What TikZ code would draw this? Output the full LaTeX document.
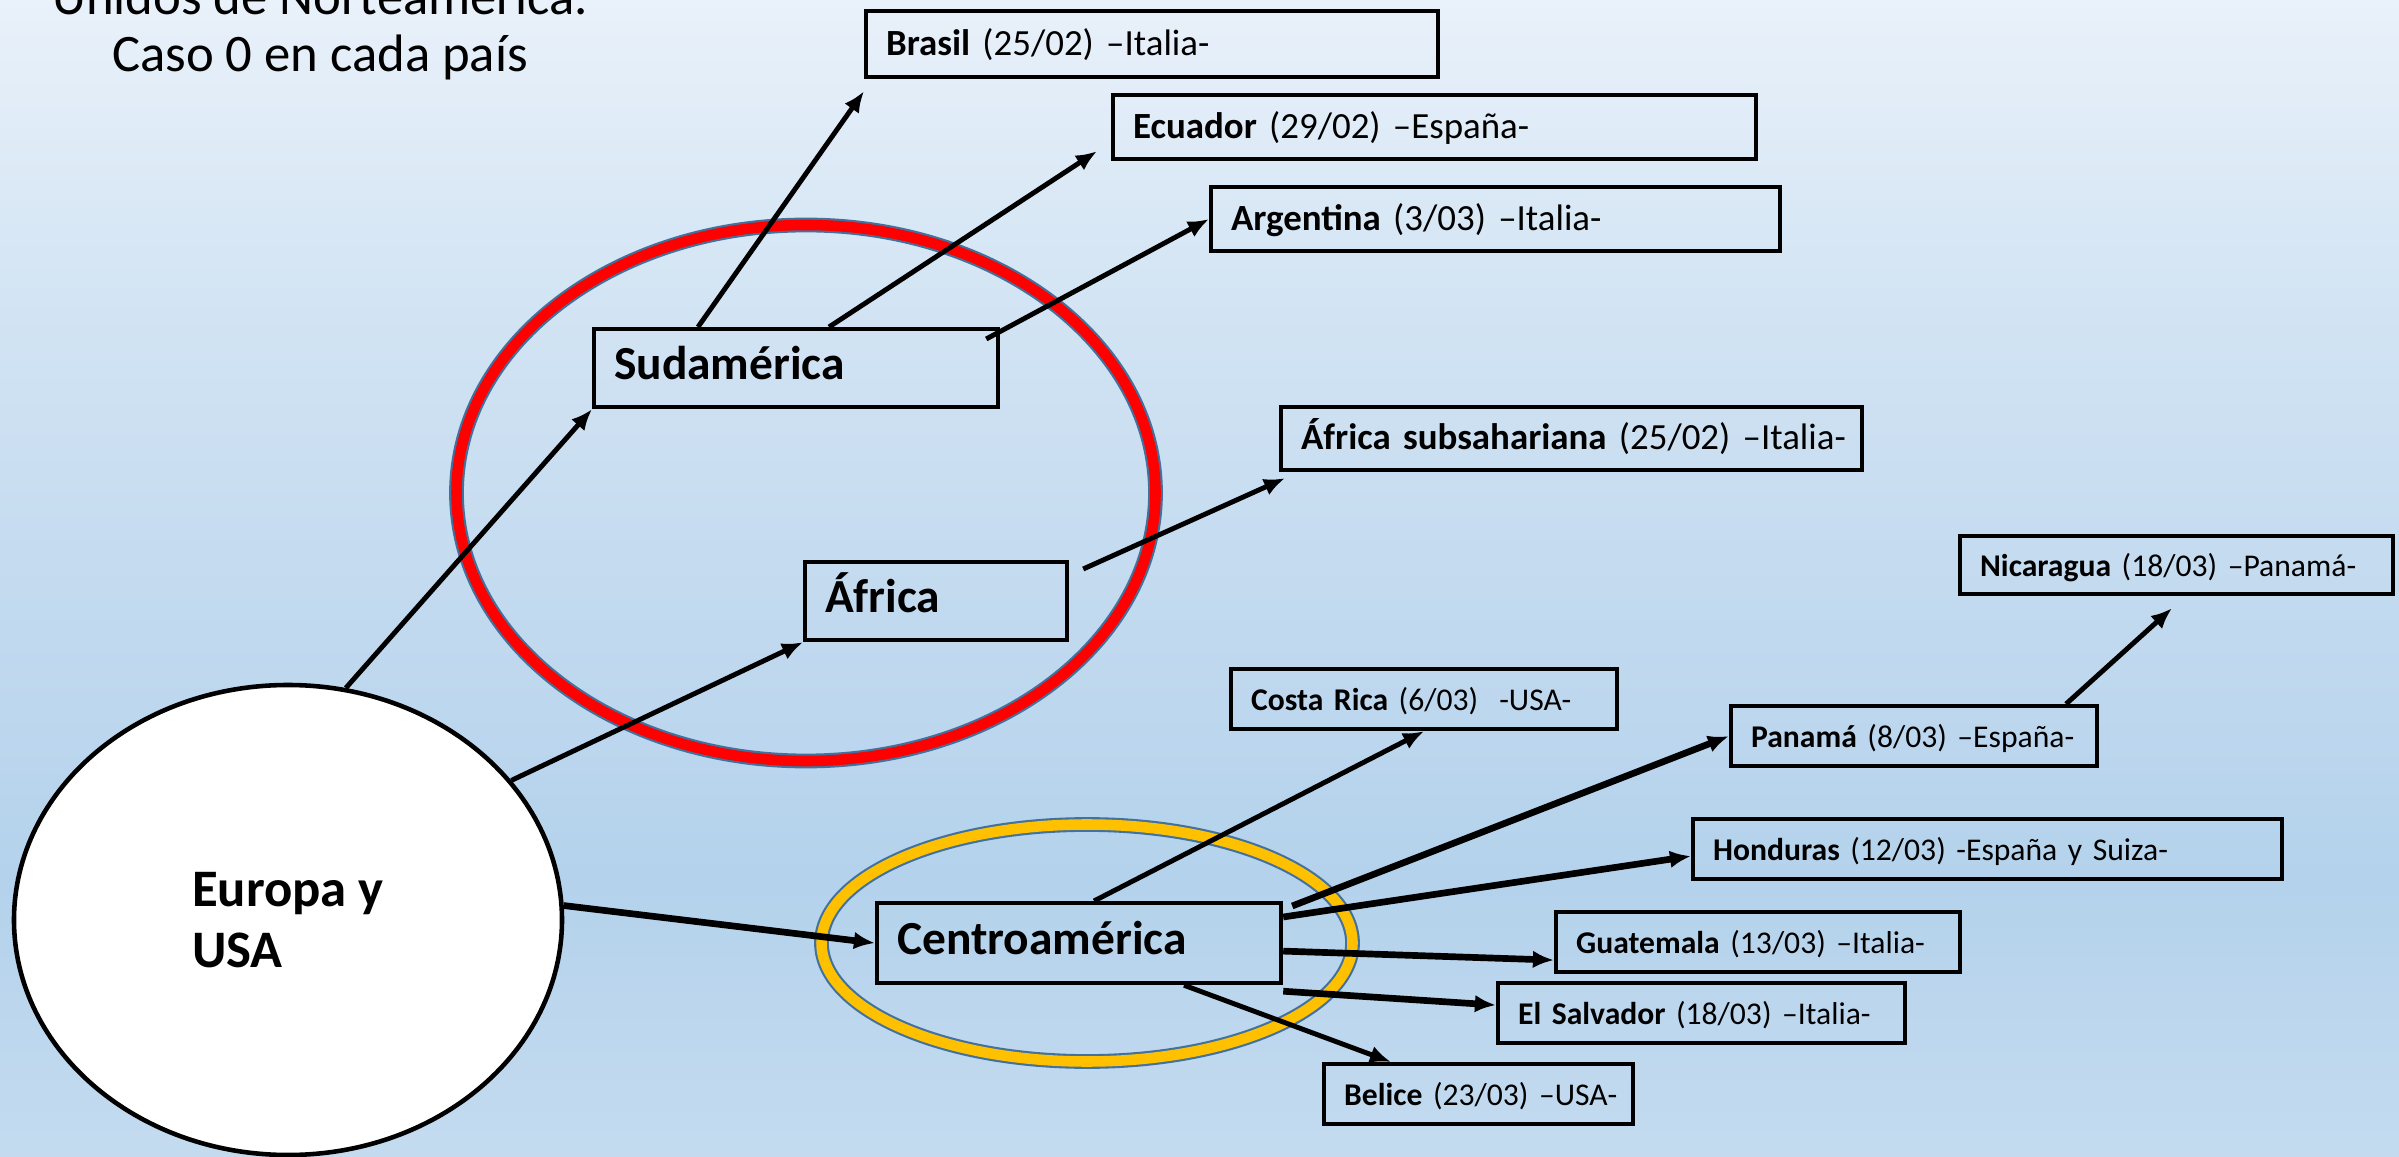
\documentclass[tikz,border=0pt]{standalone}
\usepackage{fontspec}
\setmainfont{Carlito}
\usetikzlibrary{shapes.geometric, arrows.meta}
\definecolor{bgone}{RGB}{233,241,250}
\definecolor{bgtwo}{RGB}{212,229,244}
\definecolor{bgthree}{RGB}{198,220,240}
\definecolor{bgfour}{RGB}{180,210,236}
\definecolor{bgfive}{RGB}{196,219,239}
\definecolor{ringedge}{RGB}{65,113,156}
\definecolor{ringyellow}{RGB}{255,192,0}
\newcommand{\pais}[2]{\mbox{\textbf{#1} #2}}
\begin{document}
\begin{tikzpicture}[>={Latex[length=6pt,width=5pt]}]
  \tikzstyle{box} = [draw, rectangle, line width=1.2pt, anchor=north west, inner xsep=0.2cm, inner ysep=0pt, align=left, text height=0.63em, text depth=0pt]
  \tikzstyle{big} = [font=\fontsize{13.5}{16}\selectfont\bfseries]
  \tikzstyle{mid} = [font=\fontsize{10.5}{12}\selectfont]
  \tikzstyle{small} = [font=\fontsize{9}{11}\selectfont]
  \tikzstyle{thin} = [->, line width=1.4pt]
  \tikzstyle{thick} = [->, line width=1.9pt]
  \tikzstyle{ring} = [ellipse, draw=ringedge, line width=0.6pt, double distance=3pt, inner sep=0pt]

  % background
  \useasboundingbox (0,0) rectangle (23.99,-11.567);
  \shade [top color=bgone, bottom color=bgtwo] (0,0) rectangle (23.99,-2.81);
  \shade [top color=bgtwo, bottom color=bgthree] (0,-2.8) rectangle (23.99,-5.31);
  \shade [top color=bgthree, bottom color=bgfour] (0,-5.3) rectangle (23.99,-8.81);
  \shade [top color=bgfour, bottom color=bgfive] (0,-8.8) rectangle (23.99,-11.567);

  \node [font=\fontsize{15}{16.3}\selectfont, align=center, anchor=base] (title) at (3.2,-0.72) {Unidos de Norteamérica.\\Caso 0 en cada país};

  % regions
  \node [ring, double=red, minimum width=6.99cm, minimum height=5.36cm] (sudring) at (8.06,-4.93) {};
  \node [ring, double=ringyellow, minimum width=5.31cm, minimum height=2.37cm] (caring) at (10.87,-9.43) {};
  \node [ellipse, draw, fill=white, line width=1.3pt, minimum width=5.48cm, minimum height=4.7cm, inner sep=0pt, align=left, font=\fontsize{15}{17.4}\selectfont\bfseries] (eu) at (2.88,-9.20) {Europa y\\USA};

  \node [box, mid, text width=5.32cm, minimum height=0.66cm] (br) at (8.64,-0.09) {\pais{Brasil}{(25/02) –Italia-}};
  \node [box, mid, text width=6.03cm, minimum height=0.64cm] (ec) at (11.11,-0.93) {\pais{Ecuador}{(29/02) –España-}};
  \node [box, mid, text width=5.29cm, minimum height=0.64cm] (ar) at (12.09,-1.85) {\pais{Argentina}{(3/03) –Italia-}};
  \node [box, big, text width=3.64cm, minimum height=0.78cm] (sud) at (5.92,-3.27) {Sudamérica};
  \node [box, mid, text width=5.41cm, minimum height=0.63cm] (as) at (12.79,-4.05) {\pais{África subsahariana}{(25/02) –Italia-}};
  \node [box, big, text width=2.22cm, minimum height=0.78cm] (af) at (8.03,-5.60) {África};
  \node [box, small, text width=3.93cm, minimum height=0.58cm] (ni) at (19.58,-5.34) {\pais{Nicaragua}{(18/03) –Panamá-}};
  \node [box, small, text width=3.46cm, minimum height=0.60cm] (cr) at (12.29,-6.67) {\pais{Costa Rica}{(6/03)\ \ -USA-}};
  \node [box, small, text width=3.26cm, minimum height=0.60cm] (pa) at (17.29,-7.04) {\pais{Panamá}{(8/03) –España-}};
  \node [box, small, text width=5.49cm, minimum height=0.60cm] (ho) at (16.91,-8.17) {\pais{Honduras}{(12/03) -España y Suiza-}};
  \node [box, small, text width=3.64cm, minimum height=0.60cm] (gu) at (15.54,-9.10) {\pais{Guatemala}{(13/03) –Italia-}};
  \node [box, small, text width=3.67cm, minimum height=0.60cm] (es) at (14.96,-9.81) {\pais{El Salvador}{(18/03) –Italia-}};
  \node [box, small, text width=2.69cm, minimum height=0.60cm] (be) at (13.22,-10.62) {\pais{Belice}{(23/03) –USA-}};
  \node [box, big, text width=3.64cm, minimum height=0.80cm] (ca) at (8.75,-9.01) {Centroamérica};

  \draw [thin] (eu.76) -- (sud.south west);
  \draw [thin] (eu.32) -- (af.south west);
  \draw [thick] (eu.3) -- (ca.west);
  \draw [thin] ([xshift=1.06cm]sud.north west) -- ([yshift=-0.12cm]br.south west);
  \draw [thin] ([xshift=2.37cm]sud.north west) -- ([xshift=-0.14cm,yshift=0.1cm]ec.south west);
  \draw [thin] ([xshift=-0.14cm,yshift=-0.12cm]sud.north east) -- (ar.west);
  \draw [thin] ([xshift=0.14cm,yshift=-0.09cm]af.north east) -- ([xshift=0.06cm,yshift=-0.06cm]as.south west);
  \draw [thin] ([xshift=2.19cm]ca.north west) -- (cr.south);
  \draw [thick] ([xshift=0.09cm,yshift=-0.05cm]ca.north east) -- (pa.west);
  \draw [thick] ([yshift=-0.16cm]ca.north east) -- ([yshift=-0.07cm]ho.west);
  \draw [thick] ([yshift=-0.08cm]ca.east) -- ([yshift=-0.18cm]gu.west);
  \draw [thick] ([yshift=-0.06cm]ca.south east) -- ([yshift=0.08cm]es.west);
  \draw [thin] ([xshift=3.09cm]ca.south west) -- ([xshift=0.69cm]be.north west);
  \draw [thin] ([xshift=3.37cm]pa.north west) -- ([xshift=2.14cm,yshift=-0.12cm]ni.south west);
\end{tikzpicture}
\end{document}
